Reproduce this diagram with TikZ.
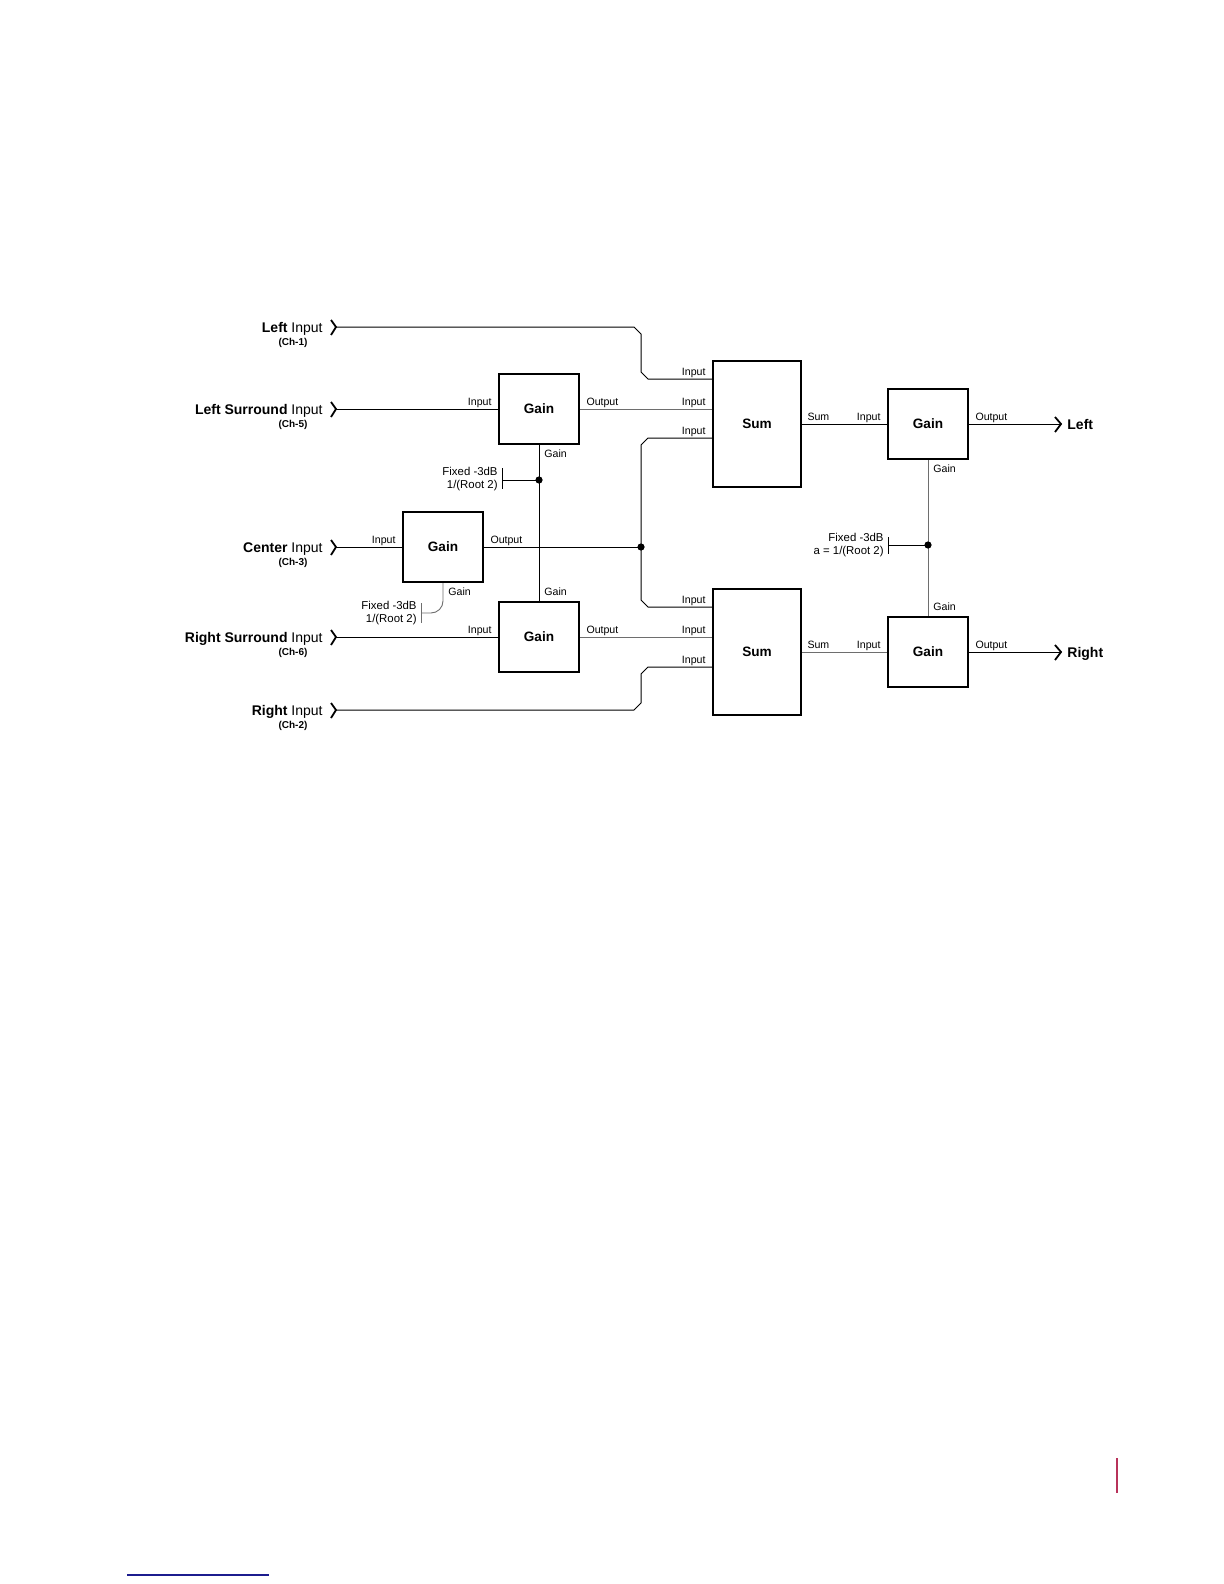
\documentclass[tikz,border=0pt]{standalone}
\usepackage{fontspec}
\setmainfont{Liberation Sans}
\usetikzlibrary{calc}
\definecolor{wiregray}{HTML}{6E6E6E}
\definecolor{pagered}{HTML}{B8325A}
\definecolor{pageblue}{HTML}{1C1C8E}

\tikzset{
  gainbox/.style={draw, line width=1.1pt, minimum width=40pt, minimum height=35pt, inner sep=0pt, font=\fontsize{6.8}{8}\selectfont\bfseries},
  sumbox/.style={gainbox, minimum width=44pt, minimum height=63pt},
  wire/.style={line width=0.5pt},
  thinwire/.style={line width=0.45pt, wiregray},
  chevron/.style={line width=0.9pt},
  portlab/.style={inner sep=0pt, font=\fontsize{5.3}{6}\selectfont},
  fixlab/.style={inner sep=0pt, align=right, font=\fontsize{5.7}{6.6}\selectfont},
  chlab/.style={inner sep=0pt, font=\fontsize{5}{6}\selectfont\bfseries},
  inlab/.style={inner sep=0pt, font=\fontsize{7}{8}\selectfont},
  dot/.style={circle, fill, inner sep=0pt, minimum size=3.6pt},
}

\begin{document}
\begin{tikzpicture}[x=0.5pt, y=-0.5pt]
\useasboundingbox (0,0) rectangle (1224,1584);

% inputs
\foreach \y/\nm/\ch/\id in {327/Left/1/inL, 409/Left Surround/5/inLS, 547/Center/3/inC, 637/Right Surround/6/inRS, 710/Right/2/inR}{
  \coordinate (\id) at (336,\y);
  \draw[chevron] (331,\y-7) -- (\id) -- (331,\y+8);
  \node[inlab, anchor=base east] (lab\id) at (323,\y+5) {\textbf{\nm} Input};
  \node[chlab, anchor=base] (ch\id) at (293,\y+18) {(Ch-\ch)};
}

% blocks
\node[gainbox] (gLS) at (539,409) {Gain};
\node[gainbox] (gC) at (443,547) {Gain};
\node[gainbox] (gRS) at (539,637) {Gain};
\node[sumbox] (sum1) at (757,424) {Sum};
\node[sumbox] (sum2) at (757,652) {Sum};
\node[gainbox] (gL) at (928,424) {Gain};
\node[gainbox] (gR) at (928,652) {Gain};

% sum inputs
\coordinate (s1a) at ($(sum1.west)+(0,-45)$);
\coordinate (s1b) at ($(sum1.west)+(0,-15)$);
\coordinate (s1c) at ($(sum1.west)+(0,14)$);
\coordinate (s2a) at ($(sum2.west)+(0,-45)$);
\coordinate (s2b) at ($(sum2.west)+(0,-15)$);
\coordinate (s2c) at ($(sum2.west)+(0,15)$);

% wiring
\node[dot] (cj) at (641,547) {};
\draw[wire] (inL) -- (634,327) -- (641,334) -- (641,372) -- (648,379) -- (s1a);
\draw[wire] (inLS) -- (gLS.west);
\draw[thinwire] (gLS.east) -- (s1b);
\draw[wire] (inC) -- (gC.west);
\draw[wire] (gC.east) -- (cj.center);
\draw[wire] (cj.center) -- (641,445) -- (648,438) -- (s1c);
\draw[wire] (cj.center) -- (641,600) -- (648,607) -- (s2a);
\draw[wire] (inRS) -- (gRS.west);
\draw[thinwire] (gRS.east) -- (s2b);
\draw[wire] (inR) -- (634,710) -- (641,703) -- (641,674) -- (648,667) -- (s2c);
\draw[wire] (sum1.east) -- (gL.west);
\draw[thinwire] (sum2.east) -- (gR.west);

% outputs
\coordinate (outL) at (1061,424);
\coordinate (outR) at (1061,652);
\draw[wire] (gL.east) -- (outL);
\draw[wire] (gR.east) -- (outR);
\draw[chevron] (1055,417) -- (outL) -- (1055,432);
\draw[chevron] (1055,645) -- (outR) -- (1055,660);
\node[inlab, anchor=base west, font=\fontsize{7}{8}\selectfont\bfseries] (labL) at (1067,429) {Left};
\node[inlab, anchor=base west, font=\fontsize{7}{8}\selectfont\bfseries] (labR) at (1067,657) {Right};

% fixed -3dB gain controls
\draw[wire] (gLS.south) -- (gRS.north);
\node[dot] (jL) at (539,480) {};
\coordinate (fx1) at (502,480);
\draw[wire] (jL.center) -- (fx1);
\draw[wire] ($(fx1)+(0,-12)$) -- ($(fx1)+(0,9)$);
\node[fixlab, anchor=east] (fxlab1) at (498,479) {Fixed -3dB\\1/(Root 2)};

\coordinate (fx2) at (421,613);
\draw[thinwire, rounded corners=6] (gC.south) |- (fx2);
\draw[thinwire] ($(fx2)+(0,-10)$) -- ($(fx2)+(0,10)$);
\node[fixlab, anchor=east] (fxlab2) at (417,613) {Fixed -3dB\\1/(Root 2)};

\draw[thinwire] (gL.south) -- (gR.north);
\node[dot] (jR) at (928,545) {};
\coordinate (fx3) at (888,545);
\draw[wire] (jR.center) -- (fx3);
\draw[wire] ($(fx3)+(0,-8)$) -- ($(fx3)+(0,9)$);
\node[fixlab, anchor=east] (fxlab3) at (884,545) {Fixed -3dB\\a = 1/(Root 2)};

% port labels
\foreach \b in {gLS,gC,gRS,gL,gR}{
  \node[portlab, anchor=base east] (pi\b) at ($(\b.west)+(-6,-4)$) {Input};
  \node[portlab, anchor=base west] (po\b) at ($(\b.east)+(6,-4)$) {Output};
}
\foreach \b in {gLS,gC,gL}
  \node[portlab, anchor=north west] (pg\b) at ($(\b.south)+(5,4)$) {Gain};
\foreach \b in {gRS,gR}
  \node[portlab, anchor=base west] (pg\b) at ($(\b.north)+(5,-5)$) {Gain};
\foreach \p in {s1a,s1b,s1c,s2a,s2b,s2c}
  \node[portlab, anchor=base east] (pl\p) at ($(\p)+(-6,-4)$) {Input};
\node[portlab, anchor=base west] (ps1) at ($(sum1.east)+(5,-4)$) {Sum};
\node[portlab, anchor=base west] (ps2) at ($(sum2.east)+(5,-4)$) {Sum};

% page marks
\draw[pagered, line width=0.6pt] (1117,1458) -- (1117,1493);
\draw[pageblue, line width=0.6pt] (127,1575) -- (269,1575);
\end{tikzpicture}
\end{document}
